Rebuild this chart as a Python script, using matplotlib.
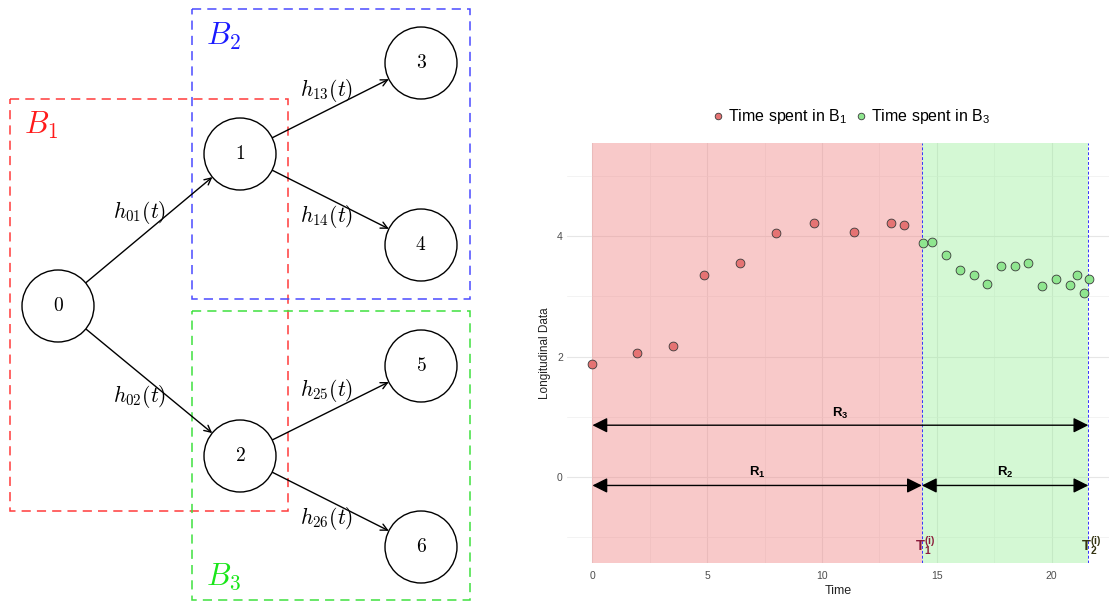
import matplotlib
matplotlib.use('Agg')
import numpy as np
import matplotlib.pyplot as plt
from matplotlib.patches import Circle, Rectangle

plt.rcParams['font.family'] = ['Liberation Sans', 'DejaVu Sans']
plt.rcParams['mathtext.fontset'] = 'custom'
plt.rcParams['mathtext.rm'] = 'Liberation Sans'
plt.rcParams['mathtext.it'] = 'Liberation Sans:italic'
plt.rcParams['mathtext.bf'] = 'Liberation Sans:bold'

# ---- longitudinal data ----
t_b1 = [0.0, 1.93, 3.53, 4.85, 6.44, 8.01, 9.66, 11.40, 13.0, 13.58]
y_b1 = [1.87, 2.06, 2.17, 3.35, 3.56, 4.05, 4.21, 4.06, 4.22, 4.19]
t_b3 = [14.39, 14.80, 15.38, 16.01, 16.60, 17.18, 17.78, 18.41, 18.99,
        19.60, 20.18, 20.80, 21.10, 21.40, 21.62]
y_b3 = [3.89, 3.90, 3.68, 3.44, 3.35, 3.21, 3.50, 3.51, 3.55,
        3.17, 3.29, 3.19, 3.35, 3.05, 3.29]
T1 = 14.35
T2 = 21.6
x_ticks = [0, 5, 10, 15, 20]
y_ticks = [0, 2, 4]

# ---- multi-state diagram ----
states = ['0', '1', '2', '3', '4', '5', '6']
transitions = [('0', '1', r'$h_{01}(t)$'), ('0', '2', r'$h_{02}(t)$'),
               ('1', '3', r'$h_{13}(t)$'), ('1', '4', r'$h_{14}(t)$'),
               ('2', '5', r'$h_{25}(t)$'), ('2', '6', r'$h_{26}(t)$')]
blocks = [r'$B_1$', r'$B_2$', r'$B_3$']

fig = plt.figure(figsize=(11.09, 6.04), dpi=100)

# left panel: drawn in pixel coordinates
ax = fig.add_axes([0, 0, 540 / 1109, 1])
ax.set_xlim(0, 540)
ax.set_ylim(604, 0)
ax.axis('off')

node_pos = {'0': (58, 306), '1': (240, 154), '2': (240, 456),
            '3': (421, 63), '4': (421, 245), '5': (421, 366), '6': (421, 547)}
r = 36
label_pos = [(140, 212), (140, 397), (327, 91), (327, 216), (327, 391), (327, 519)]

box_specs = [((10, 99), 278, 412, '#ff3b3b', (24, 125)),
             ((192, 9), 278, 290, '#4a4aff', (206, 36)),
             ((192, 311), 278, 289, '#3fe03f', (206, 577))]
text_cols = ['#ff1a1a', '#1a1aff', '#19e619']
for (xy, w, h, col, lp), name, tc in zip(box_specs, blocks, text_cols):
    ax.add_patch(Rectangle(xy, w, h, fill=False, ec=col, lw=1.1,
                           ls=(0, (6, 4)), zorder=1))
    ax.text(lp[0], lp[1], name, color=tc, fontsize=22, ha='left', va='center',
            math_fontfamily='cm')

for s in states:
    x, y = node_pos[s]
    ax.add_patch(Circle((x, y), r, fc='white', ec='black', lw=1.0, zorder=3))
    ax.text(x, y, '$' + s + '$', fontsize=14, ha='center', va='center',
            math_fontfamily='cm', zorder=4)

for (a, b, lab), lp in zip(transitions, label_pos):
    p0 = np.array(node_pos[a], float)
    p1 = np.array(node_pos[b], float)
    u = (p1 - p0) / np.linalg.norm(p1 - p0)
    ax.annotate('', xy=p1 - r * u, xytext=p0 + r * u,
                arrowprops=dict(arrowstyle='->', lw=1.0, color='black',
                                shrinkA=0, shrinkB=0, mutation_scale=12),
                zorder=2)
    ax.text(lp[0], lp[1], lab, fontsize=15.5, ha='center', va='center',
            math_fontfamily='cm', zorder=5)

# right panel: longitudinal trajectory
ax2 = fig.add_axes([567 / 1109, 41 / 604, 542 / 1109, 420 / 604])
ax2.set_xlim(-1.107, 21.97)
ax2.set_ylim(-1.427, 5.544)
ax2.set_axisbelow(True)
ax2.set_xticks(x_ticks)
ax2.set_yticks(y_ticks)
ax2.set_xticks([2.5, 7.5, 12.5, 17.5, 22.5], minor=True)
ax2.set_yticks([-1, 1, 3, 5], minor=True)
ax2.grid(which='major', color='#e6e6e6', lw=0.8)
ax2.grid(which='minor', color='#efefef', lw=0.5)
for sp in ax2.spines.values():
    sp.set_visible(False)
ax2.tick_params(which='both', length=0, labelsize=7.5, labelcolor='#4d4d4d')
ax2.tick_params(axis='x', pad=6)
ax2.tick_params(axis='y', pad=3)

ax2.axvspan(0, T1, color='#f08080', alpha=0.42, lw=0, zorder=1)
ax2.axvspan(T1, T2, color='#90ee90', alpha=0.38, lw=0, zorder=1)
for tv in (T1, T2):
    ax2.axvline(tv, color='#3333ff', lw=0.7, ls=(0, (3, 2)), zorder=2)

h1 = ax2.scatter(t_b1, y_b1, s=40, c='#e57373', edgecolors='#3a3a3a',
                 linewidths=0.6, zorder=4, label=r'Time spent in $\mathrm{B}_1$')
h3 = ax2.scatter(t_b3, y_b3, s=40, c='#8fe68f', edgecolors='#3a3a3a',
                 linewidths=0.6, zorder=4, label=r'Time spent in $\mathrm{B}_3$')

astyle = '<|-|>,head_length=0.7,head_width=0.35'
arrows = [(0, T2, 0.86, 1.06, r'$\mathbf{R}_\mathbf{3}$'),
          (0, T1, -0.14, 0.07, r'$\mathbf{R}_\mathbf{1}$'),
          (T1, T2, -0.14, 0.07, r'$\mathbf{R}_\mathbf{2}$')]
for x0, x1, ya, yl, lab in arrows:
    ax2.annotate('', xy=(x1, ya), xytext=(x0, ya),
                 arrowprops=dict(arrowstyle=astyle, color='black', lw=1.0,
                                 mutation_scale=13, shrinkA=0, shrinkB=0),
                 zorder=5)
    ax2.text((x0 + x1) / 2, yl, lab, fontsize=9.5, ha='center', va='center', zorder=6)

ax2.text(T1 + 0.12, -1.15, r'$\mathbf{T}_\mathbf{1}^\mathbf{(i)}$', fontsize=10.5,
         ha='center', va='center', color='#8b1a3a', zorder=6)
ax2.text(T2 + 0.12, -1.15, r'$\mathbf{T}_\mathbf{2}^\mathbf{(i)}$', fontsize=10.5,
         ha='center', va='center', color='#333311', zorder=6)

ax2.set_xlabel('Time', fontsize=9, labelpad=3, color='#222222')
ax2.set_ylabel('Longitudinal Data', fontsize=8.5, labelpad=4, color='#222222')

fig.legend(handles=[h1, h3], loc='center', bbox_to_anchor=(851 / 1109, 1 - 116 / 604),
           ncol=2, frameon=False, fontsize=11.5, handlelength=0.8, handletextpad=0.2,
           columnspacing=0.5, markerscale=0.75, borderaxespad=0)

fig.savefig('out.png', dpi=100)
